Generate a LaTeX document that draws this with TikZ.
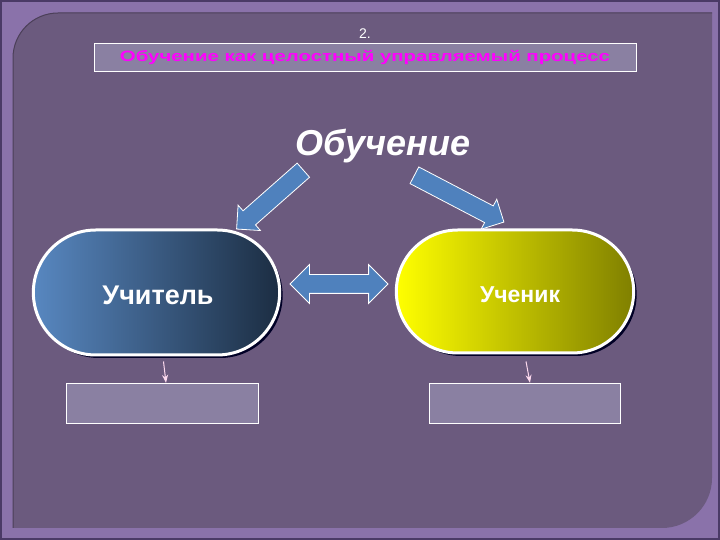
\documentclass[tikz,border=0pt]{standalone}
\usepackage{fontspec}
\setmainfont{Liberation Sans}
\newfontfamily\titlefont[FakeStretch=1.36]{Liberation Sans}
\usepackage{tikz}
\usetikzlibrary{arrows.meta, shapes.misc, shapes.arrows, shadows}

\definecolor{frame}{HTML}{8A72AA}
\definecolor{frameedge}{HTML}{4A3A66}
\definecolor{panel}{HTML}{6B5A7E}
\definecolor{boxfill}{HTML}{8A80A2}
\definecolor{arrowblue}{HTML}{4F81BD}
\definecolor{titlepink}{HTML}{FF00FF}

\begin{document}
\begin{tikzpicture}[x=1pt, y=1pt]
%\tikzstyle{stadium}=[rounded rectangle,draw=white,line width=3pt]
\useasboundingbox (0,0) rectangle (720,540);

% background of the slide
\fill[frame] (0,0) rectangle (720,540);
\draw[frameedge, line width=2pt] (1,1) rectangle (719,539);
\fill[panel] (13,12) -- (13,482) arc[start angle=180, end angle=90, radius=45]
    -- (712,527) -- (712,62) arc[start angle=0, end angle=-90, radius=50] -- cycle;
\draw[panel!70!black, line width=1pt] (13,12) -- (13,482) arc[start angle=180, end angle=90, radius=45] -- (712,527);

\begin{scope}
    \node (num) at (365,506) {\color{white}\fontsize{14}{16}\selectfont 2.};
    \node[draw=white, fill=boxfill, minimum width=542pt, minimum height=28pt, inner sep=0pt]
        (title) at (365,483) {\titlefont\bfseries\fontsize{15}{17}\selectfont\color{titlepink}Обучение как целостный управляемый процесс};
    \node (learn) at (383,394) {\color{white}\bfseries\itshape\fontsize{36}{40}\selectfont Обучение};

    \node[rounded rectangle, draw=white, line width=3pt, minimum width=253pt, minimum height=125pt,
          left color=arrowblue!95!white, right color=arrowblue!35!black,
          drop shadow={shadow xshift=3pt, shadow yshift=-3pt, fill=black!85!blue, opacity=1}]
        (teacher) at (156.5,247.5) {};
    \node at (158,245) {\color{white}\bfseries\fontsize{27}{30}\selectfont Учитель};

    \node[rounded rectangle, draw=white, line width=3pt, minimum width=244pt, minimum height=123pt,
          left color=yellow, right color=yellow!50!black,
          drop shadow={shadow xshift=3pt, shadow yshift=-3pt, fill=black!85!blue, opacity=1}]
        (student) at (515,248.5) {};
    \node at (520,245) {\color{white}\bfseries\fontsize{23}{26}\selectfont Ученик};

    \node[draw=white, fill=boxfill, minimum width=192pt, minimum height=40pt] (taskL) at (162,137) {};
    \node[draw=white, fill=boxfill, minimum width=191pt, minimum height=40pt] (taskR) at (524.5,137) {};
\end{scope}

\begin{scope}[every node/.style={fill=arrowblue, draw=white, line width=0.8pt, inner xsep=0pt, inner ysep=9pt}]
    \node[single arrow, single arrow head extend=7.5pt, minimum height=89pt, rotate=221.4] (arrL) at (273.5,343.5) {};
    \node[single arrow, single arrow head extend=7.5pt, minimum height=101pt, rotate=-27.6] (arrR) at (455,343.5) {};
    \node[double arrow, double arrow head extend=10pt, minimum height=98pt] (arrM) at (339,256) {};
\end{scope}

\begin{scope}[>={Stealth[length=8pt, width=6pt]}, every edge/.style={draw=white!85!magenta, line width=1pt}]
    \path [->] ([xshift=7pt, yshift=-5pt]teacher.south) edge ([xshift=4pt]taskL.north);
    \path [->] ([xshift=11pt, yshift=-7pt]student.south) edge ([xshift=5.5pt]taskR.north);
\end{scope}
\end{tikzpicture}
\end{document}
